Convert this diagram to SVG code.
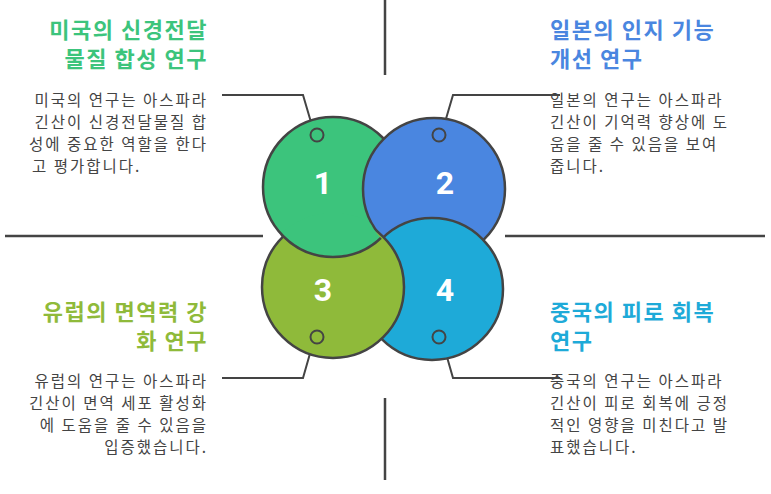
<svg xmlns="http://www.w3.org/2000/svg" width="771" height="494" viewBox="0 0 771 494">
<style>
.ax{stroke:#444;stroke-width:2.5;fill:none}
.ln{stroke:#444;stroke-width:2;fill:none}
.c{stroke:#444;stroke-width:2.5}
.num{font-family:Roboto,"Liberation Sans",sans-serif;font-weight:bold;font-size:32px;fill:#fff;text-anchor:middle}
.t{font-family:"Noto Sans CJK KR",sans-serif;font-weight:bold;font-size:22px;letter-spacing:1.5px}
.b{font-family:"Noto Sans CJK KR",sans-serif;font-size:15.5px;fill:#444;letter-spacing:2px}
.r{text-anchor:end}
</style>
<defs><mask id="m1" maskUnits="userSpaceOnUse" x="0" y="0" width="771" height="494"><circle cx="333" cy="287" r="74" fill="#fff"/><circle cx="434" cy="189" r="72.3" fill="#000"/></mask></defs>
<g id="connectors">
<path class="ax" d="M385 0V75M385 398V480M5 236H263M505 236H765"/>
<path class="ln" d="M222 95H303L313 129M560 95H453L443 129M222 378H303L313 343M560 378H453L443 343"/>
</g>
<g id="node1"><circle class="c" cx="333" cy="187" r="70" fill="#3cc47c"/></g>
<g id="node2"><circle class="c" cx="434" cy="189" r="71" fill="#4a86e0"/></g>
<g id="node4"><circle class="c" cx="432" cy="289" r="71" fill="#1eaad8"/></g>
<g id="node3"><circle class="c" cx="333" cy="287" r="71" fill="#8fba3a"/>
<circle class="c" cx="333" cy="187" r="70" fill="#3cc47c" mask="url(#m1)"/></g>
<g fill="none" class="ln"><circle cx="317" cy="135" r="6.5"/><circle cx="439" cy="135" r="6.5"/><circle cx="317" cy="337" r="6.5"/><circle cx="439" cy="337" r="6.5"/></g>
<text class="num" x="323" y="194">1</text><text class="num" x="445" y="194">2</text>
<text class="num" x="323" y="301">3</text><text class="num" x="445" y="301">4</text>
<g id="text1"><text class="t r" x="208" y="38" fill="#3cc47c">미국의 신경전달</text><text class="t r" x="208" y="67" fill="#3cc47c">물질 합성 연구</text>
<text class="b r" x="208" y="106">미국의 연구는 아스파라</text><text class="b r" x="208" y="128">긴산이 신경전달물질 합</text><text class="b r" x="208" y="150">성에 중요한 역할을 한다</text><text class="b" x="32" y="172">고 평가합니다.</text></g>
<g id="text2"><text class="t" x="550" y="38" fill="#4a86e0">일본의 인지 기능</text><text class="t" x="550" y="67" fill="#4a86e0">개선 연구</text>
<text class="b" x="550" y="106">일본의 연구는 아스파라</text><text class="b" x="550" y="128">긴산이 기억력 향상에 도</text><text class="b" x="550" y="150">움을 줄 수 있음을 보여</text><text class="b" x="550" y="172">줍니다.</text></g>
<g id="text3"><text class="t r" x="208" y="320" fill="#8fba3a">유럽의 면역력 강</text><text class="t r" x="208" y="349" fill="#8fba3a">화 연구</text>
<text class="b r" x="208" y="387">유럽의 연구는 아스파라</text><text class="b r" x="208" y="409">긴산이 면역 세포 활성화</text><text class="b r" x="208" y="431">에 도움을 줄 수 있음을</text><text class="b r" x="208" y="453">입증했습니다.</text></g>
<g id="text4"><text class="t" x="550" y="320" fill="#1eaad8">중국의 피로 회복</text><text class="t" x="550" y="349" fill="#1eaad8">연구</text>
<text class="b" x="550" y="387">중국의 연구는 아스파라</text><text class="b" x="550" y="409">긴산이 피로 회복에 긍정</text><text class="b" x="550" y="431">적인 영향을 미친다고 발</text><text class="b" x="550" y="453">표했습니다.</text></g>
</svg>
